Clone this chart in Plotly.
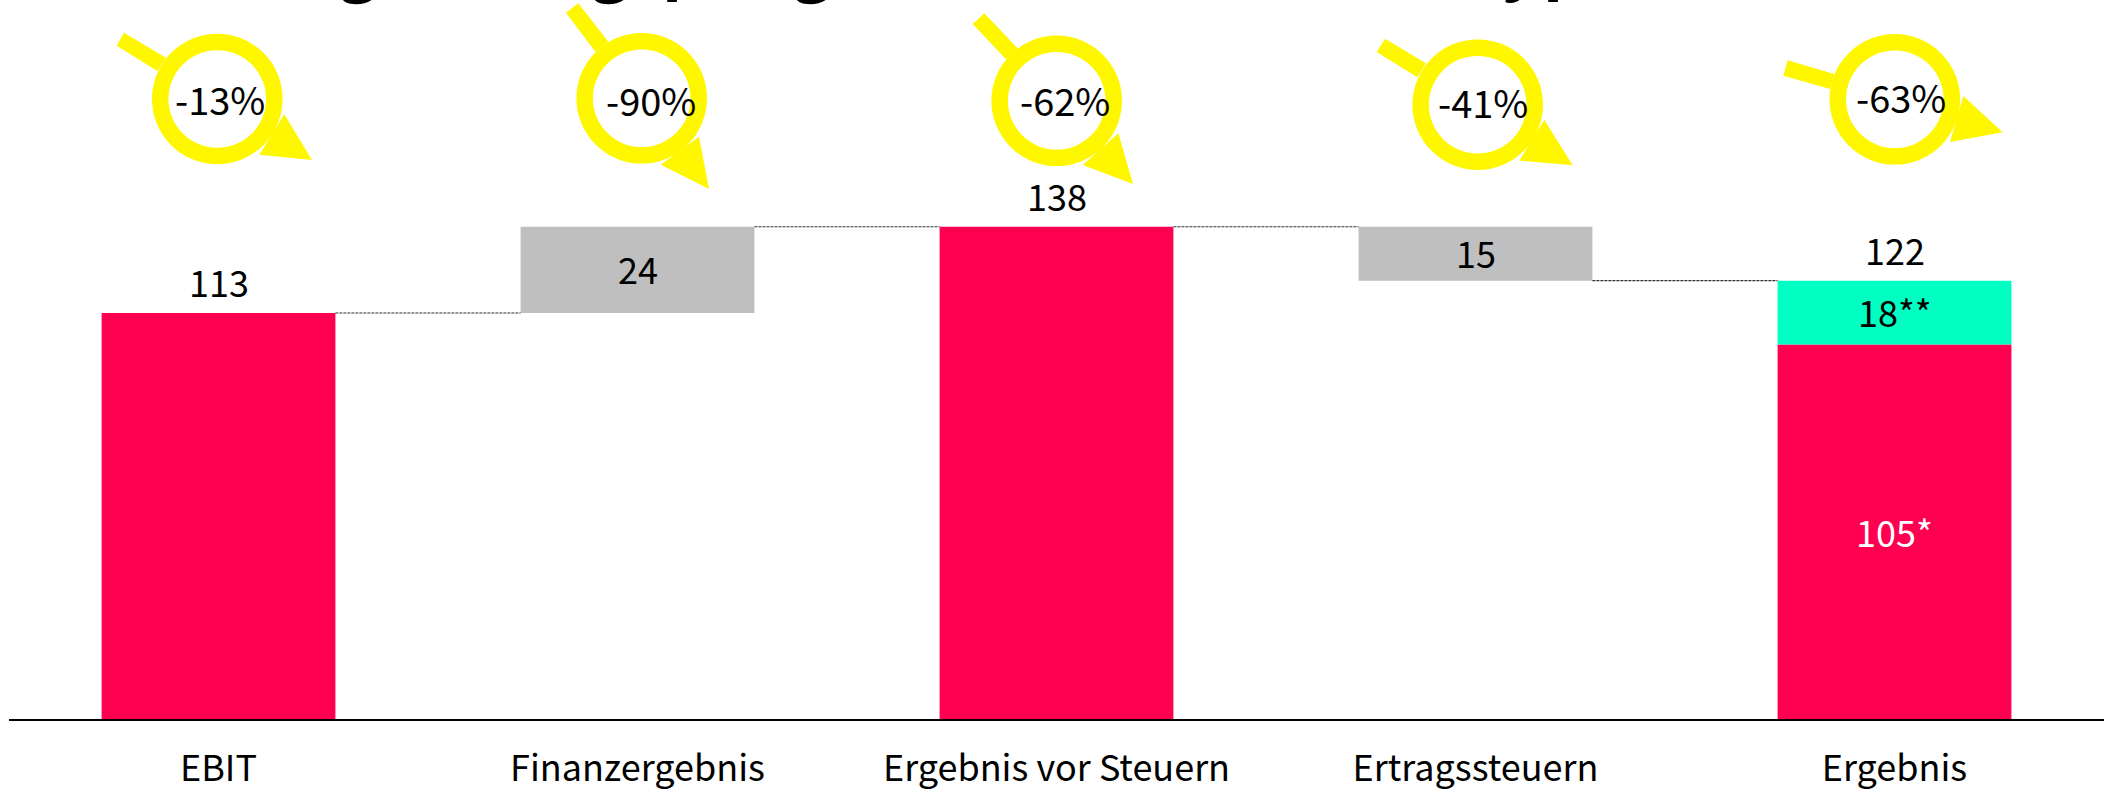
import plotly.graph_objects as go

W, H = 2114, 791
PLOT_L, PLOT_R, PLOT_B = 9, 2104, 719

# ---- data ----
categories = ["EBIT", "Finanzergebnis", "Ergebnis vor Steuern", "Ertragssteuern", "Ergebnis"]
main_values = [113, None, 137, None, 104.2]
main_labels = ["", "", "", "", "105*"]
bridge_values = [None, 24, None, 15, None]
bridge_base = [None, 113, None, 122, None]
bridge_labels = ["", "24", "", "15", ""]
top_values = [None, None, None, None, 17.8]
top_base = [None, None, None, None, 104.2]
top_labels = ["", "", "", "", "18**"]
total_values = [113, None, 137, None, 122]
total_labels = ["113", "", "138", "", "122"]
connector_levels = [113, 137, 137, 122]
change_labels = ["-13%", "-90%", "-62%", "-41%", "-63%"]
clipped_title_glyphs = ["g", "g", "p", "g", "y", "p"]

# ---- decoration geometry (pixels on the page) ----
ring_centres = [(217.3, 99.0), (641.7, 98.3), (1056.7, 100.8), (1477.7, 104.7), (1894.8, 99.3)]
change_label_pos = [(220, 98), (650.9, 99.5), (1064.8, 99.5), (1482.9, 101.8), (1900.9, 96.8)]
ring_outer, ring_inner = 65.3, 48.8
tails = [
    [(124, 32.7), (116.7, 45.7), (157.3, 71), (166, 57.7)],
    [(578.3, 3.3), (566, 12.7), (595.3, 51.7), (608.3, 41.7)],
    [(984.3, 13.3), (972.7, 24), (1006, 59.3), (1017.7, 48.3)],
    [(1385, 38.7), (1376.7, 52), (1417.3, 77.3), (1426, 63.3)],
    [(1787.7, 60.3), (1783.3, 75.7), (1830, 89), (1834.3, 74)],
]
heads = [
    [(284.3, 114.3), (259.3, 154.7), (312, 160)],
    [(699, 136.7), (660.7, 164.7), (709, 189)],
    [(1118.3, 133.3), (1082.7, 165), (1133, 184)],
    [(1544.3, 119.7), (1519.3, 160.7), (1572.7, 165.3)],
    [(1963.3, 96), (1950, 142), (2002.7, 132.3)],
]
title_glyph_x = [357, 609, 683, 811, 1521, 1564]

BAR_W = 0.558
RED, TEAL, GREY, YELLOW = "#FF0050", "#00FFC3", "#BFBFBF", "#FFF700"
FONT = "Noto Sans CJK SC"
FS = 36

# "paper" spans the plot area, so page pixels are converted relative to it
def px(x): return (x - PLOT_L) / (PLOT_R - PLOT_L)
def py(y): return 1 - y / PLOT_B
def poly(pts):
    return "M " + " L ".join(f"{px(x):.5f} {py(y):.5f}" for x, y in pts) + " Z"

def disc(cx, cy, r, color):
    return dict(type="circle", xref="paper", yref="paper",
                x0=px(cx - r), x1=px(cx + r), y0=py(cy + r), y1=py(cy - r),
                line_width=0, fillcolor=color)

xs = list(range(len(categories)))
fig = go.Figure()

fig.add_bar(x=xs, y=main_values, width=BAR_W, marker=dict(color=RED, line_width=0))
fig.add_bar(x=xs, y=top_values, base=top_base, width=BAR_W, marker=dict(color=TEAL, line_width=0))
fig.add_bar(x=xs, y=bridge_values, base=bridge_base, width=BAR_W, marker=dict(color=GREY, line_width=0))

for i, level in enumerate(connector_levels):
    fig.add_scatter(x=[i + BAR_W / 2, i + 1 - BAR_W / 2], y=[level, level], mode="lines",
                    line=dict(color="#303030", width=1.2, dash="3px,1px"))

shapes = []
for (cx, cy), tail, head in zip(ring_centres, tails, heads):
    shapes.append(dict(type="path", path=poly(tail), xref="paper", yref="paper",
                       fillcolor=YELLOW, line_width=0))
    shapes.append(dict(type="path", path=poly(head), xref="paper", yref="paper",
                       fillcolor=YELLOW, line_width=0))
    shapes.append(disc(cx, cy, ring_outer, YELLOW))
    shapes.append(disc(cx, cy, ring_inner, "white"))

annotations = []
def value_label(i, y, text, color, yshift):
    annotations.append(dict(text=text, x=i, y=y, xref="x", yref="y", showarrow=False,
                            xanchor="center", yanchor="middle", yshift=yshift,
                            font=dict(size=FS, color=color, family=FONT)))

for i in xs:
    if total_values[i] is not None:
        value_label(i, total_values[i], total_labels[i], "black", 32)
    if bridge_values[i] is not None:
        value_label(i, bridge_base[i] + bridge_values[i] / 2, bridge_labels[i], "black", 2)
    if top_values[i] is not None:
        value_label(i, top_base[i] + top_values[i] / 2, top_labels[i], "black", 2)
    if main_labels[i]:
        value_label(i, main_values[i] / 2, main_labels[i], "white", 1)

for (lx, ly), lab in zip(change_label_pos, change_labels):
    annotations.append(dict(text=lab, xref="paper", yref="paper", x=px(lx), y=py(ly),
                            showarrow=False, xanchor="center", yanchor="middle",
                            font=dict(size=38, color="black", family=FONT)))
for gx, g in zip(title_glyph_x, clipped_title_glyphs):
    annotations.append(dict(text=f"<b>{g}</b>", xref="paper", yref="paper", x=px(gx), y=py(8.5),
                            showarrow=False, xanchor="center", yanchor="bottom",
                            font=dict(size=66, color="black", family=FONT)))

fig.update_layout(
    width=W, height=H, autosize=False,
    margin=dict(l=PLOT_L, r=W - PLOT_R, t=0, b=H - PLOT_B, pad=0),
    paper_bgcolor="white", plot_bgcolor="white",
    barmode="overlay", showlegend=False,
    shapes=shapes, annotations=annotations,
    xaxis=dict(range=[-0.5, 4.5], tickmode="array", tickvals=xs, ticktext=categories,
               showgrid=False, zeroline=False, showline=True, linecolor="black", linewidth=2,
               ticks="", ticklabelstandoff=17, automargin=False,
               tickfont=dict(size=FS, color="black", family=FONT)),
    yaxis=dict(range=[0, PLOT_B / 3.593], visible=False, showgrid=False, zeroline=False,
               automargin=False),
)

fig.write_html("out.html", config=dict(displayModeBar=False),
               post_script="document.body.style.margin='0';document.body.style.overflow='hidden';")
